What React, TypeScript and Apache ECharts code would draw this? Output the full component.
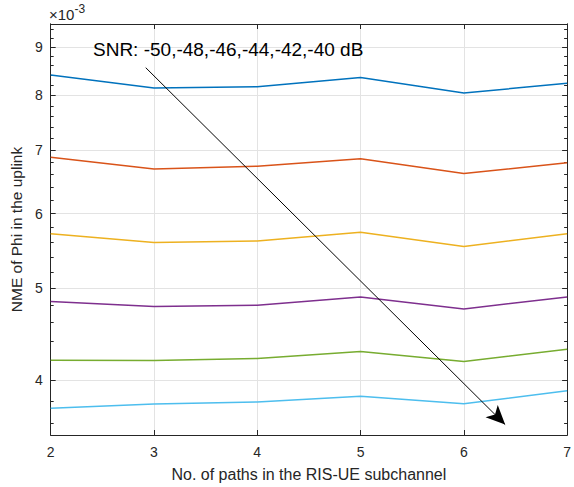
import React, { useEffect, useRef } from 'react';
import * as echarts from 'echarts';

// Number of paths in the RIS-UE subchannel
const paths = [2, 3, 4, 5, 6, 7];

// NME of Phi in the uplink, one curve per SNR
const snrNames = ['-50 dB', '-48 dB', '-46 dB', '-44 dB', '-42 dB', '-40 dB'];
const nmeSnr50 = [8.408e-3, 8.147e-3, 8.173e-3, 8.359e-3, 8.049e-3, 8.239e-3];
const nmeSnr48 = [6.883e-3, 6.688e-3, 6.734e-3, 6.856e-3, 6.615e-3, 6.79e-3];
const nmeSnr46 = [5.713e-3, 5.594e-3, 5.612e-3, 5.735e-3, 5.539e-3, 5.713e-3];
const nmeSnr44 = [4.843e-3, 4.785e-3, 4.8e-3, 4.898e-3, 4.757e-3, 4.898e-3];
const nmeSnr42 = [4.199e-3, 4.196e-3, 4.216e-3, 4.289e-3, 4.186e-3, 4.313e-3];
const nmeSnr40 = [3.735e-3, 3.774e-3, 3.793e-3, 3.846e-3, 3.777e-3, 3.898e-3];

const lineColors = ['#0072BD', '#D95319', '#EDB120', '#7E2F8E', '#77AC30', '#4DBEEE'];

// Log-scale y ticks (values are multiplied by 10^3 for their labels)
const yMajorTicks = [4e-3, 5e-3, 6e-3, 7e-3, 8e-3, 9e-3];
const yMinorTicks = [
  3.6e-3, 3.8e-3, 4.2e-3, 4.4e-3, 4.6e-3, 4.8e-3, 5.2e-3, 5.4e-3, 5.6e-3, 5.8e-3,
  6.2e-3, 6.4e-3, 6.6e-3, 6.8e-3, 7.2e-3, 7.4e-3, 7.6e-3, 7.8e-3, 8.2e-3, 8.4e-3,
  8.6e-3, 8.8e-3, 9.2e-3, 9.4e-3,
];
const yMin = 3.5e-3;
const yMax = 9.52e-3;

// Arrow running across the curves in the SNR direction
const arrowFrom = [2.92, 8.56e-3];
const arrowTo = [6.4, 3.59e-3];
const annotation = 'SNR: -50,-48,-46,-44,-42,-40 dB';

const FONT = '"Liberation Sans", Arial, Helvetica, sans-serif';
const AXIS = '#262626';
const GRID = '#E3E3E3';

export default function App() {
  const ref = useRef<HTMLDivElement>(null);

  useEffect(() => {
    document.body.style.margin = '0';
    const chart = echarts.init(ref.current!, undefined, { renderer: 'svg' });
    const curves = [nmeSnr50, nmeSnr48, nmeSnr46, nmeSnr44, nmeSnr42, nmeSnr40];

    const yBase = {
      type: 'log' as const,
      logBase: 10,
      min: yMin,
      max: yMax,
    };

    const series: any[] = curves.map((vals, i) => ({
      name: snrNames[i],
      type: 'line',
      xAxisIndex: 0,
      yAxisIndex: 0,
      data: paths.map((p, j) => [p, vals[j]]),
      showSymbol: false,
      symbol: 'none',
      lineStyle: { color: lineColors[i], width: 1.5 },
      itemStyle: { color: lineColors[i] },
      silent: true,
      z: 3,
    }));

    series[0].markLine = {
      silent: true,
      animation: false,
      symbol: ['none', 'arrow'],
      symbolSize: [13, 19],
      lineStyle: { color: '#000', width: 1, type: 'solid' },
      itemStyle: { color: '#000' },
      label: { show: false },
      emphasis: { disabled: true },
      data: [[{ coord: arrowFrom }, { coord: arrowTo }]],
    };

    // Short inward minor ticks on the left and right edges of the box
    const minorAxis = (position: 'left' | 'right') => ({
      ...yBase,
      position,
      axisLine: { show: true, lineStyle: { color: AXIS, width: 1 } },
      axisTick: { show: true, inside: true, length: 3, customValues: yMinorTicks, lineStyle: { color: AXIS, width: 1 } },
      axisLabel: { show: false, customValues: yMinorTicks },
      splitLine: { show: false },
    });

    chart.setOption({
      animation: false,
      textStyle: { fontFamily: FONT },
      grid: { left: 49, right: 4, top: 24, bottom: 51, containLabel: false },
      xAxis: [
        {
          type: 'value',
          position: 'bottom',
          min: 2,
          max: 7,
          interval: 1,
          name: 'No. of paths in the RIS-UE subchannel',
          nameLocation: 'middle',
          nameGap: 31,
          nameTextStyle: { fontSize: 16, color: AXIS, fontFamily: FONT },
          axisLine: { show: true, lineStyle: { color: AXIS, width: 1 } },
          axisTick: { show: true, inside: true, length: 5, lineStyle: { color: AXIS } },
          axisLabel: { fontSize: 14, color: AXIS, margin: 10, fontFamily: FONT },
          splitLine: { show: true, lineStyle: { color: GRID, width: 1 } },
        },
        {
          type: 'value',
          position: 'top',
          min: 2,
          max: 7,
          interval: 1,
          axisLine: { show: true, onZero: false, lineStyle: { color: AXIS, width: 1 } },
          axisTick: { show: true, inside: true, length: 5, lineStyle: { color: AXIS } },
          axisLabel: { show: false },
          splitLine: { show: false },
        },
      ],
      yAxis: [
        {
          ...yBase,
          position: 'left',
          name: 'NME of Phi in the uplink',
          nameLocation: 'middle',
          nameGap: 24,
          nameTextStyle: { fontSize: 15.5, color: AXIS, fontFamily: FONT },
          axisLine: { show: true, lineStyle: { color: AXIS, width: 1 } },
          axisTick: { show: true, inside: true, length: 5, customValues: yMajorTicks, lineStyle: { color: AXIS } },
          axisLabel: {
            fontSize: 14,
            color: AXIS,
            margin: 8,
            fontFamily: FONT,
            customValues: yMajorTicks,
            formatter: (v: number) => String(Math.round(v * 1000)),
          },
          splitLine: { show: true, lineStyle: { color: GRID, width: 1 } },
        },
        minorAxis('left'),
        {
          ...yBase,
          position: 'right',
          axisLine: { show: true, lineStyle: { color: AXIS, width: 1 } },
          axisTick: { show: true, inside: true, length: 5, customValues: yMajorTicks, lineStyle: { color: AXIS } },
          axisLabel: { show: false, customValues: yMajorTicks },
          splitLine: { show: false },
        },
        minorAxis('right'),
      ],
      graphic: [
        {
          type: 'text',
          left: 49,
          top: 3,
          style: {
            text: '{a|×10}{b|-3}',
            rich: {
              a: { fontSize: 15, fill: AXIS, fontFamily: FONT, verticalAlign: 'bottom', lineHeight: 19 },
              b: { fontSize: 12, fill: AXIS, fontFamily: FONT, verticalAlign: 'top', lineHeight: 13, padding: [0, 0, 8, 0] },
            },
          },
        },
        {
          type: 'text',
          left: 93,
          top: 40,
          z: 10,
          style: {
            text: annotation,
            fontSize: 19,
            fill: '#000',
            fontFamily: FONT,
          },
        },
      ],
      series,
    });

    return () => chart.dispose();
  }, []);

  return <div ref={ref} style={{ width: 574, height: 487 }} />;
}
